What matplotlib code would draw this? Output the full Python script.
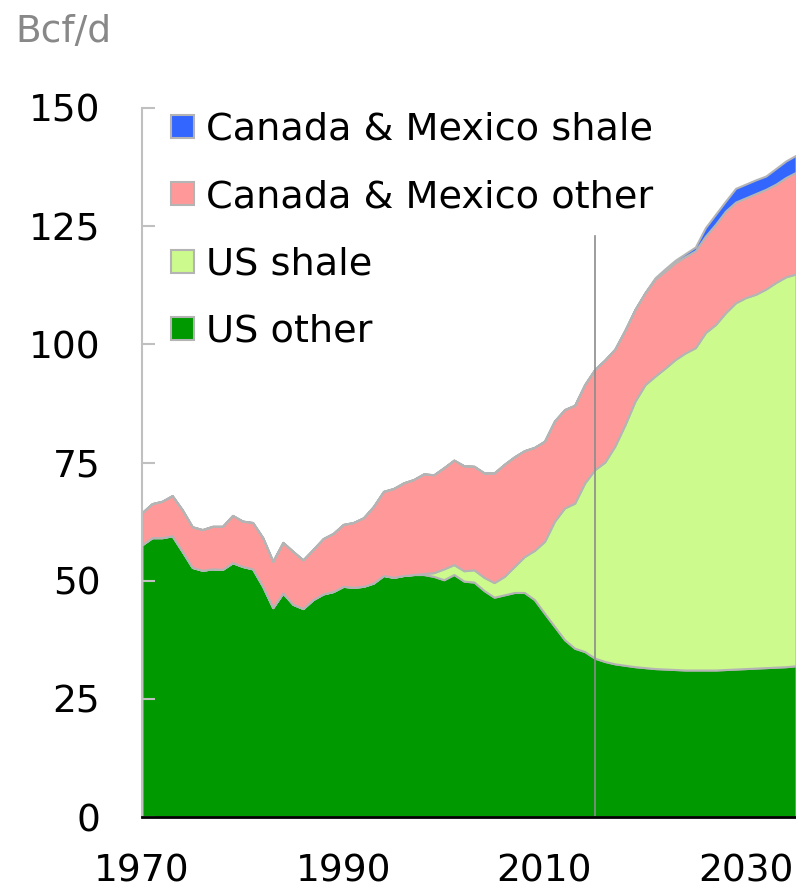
import matplotlib
matplotlib.use("Agg")
import matplotlib.pyplot as plt
import numpy as np

plt.rcParams['font.family'] = ['DejaVu Sans']

years = list(range(1970, 2036))

us_other = [57.6, 59.1, 59.1, 59.5, 56.2, 52.8, 52.2, 52.5, 52.4, 53.8,
            53.0, 52.5, 48.8, 44.3, 47.4, 45.0, 44.1, 46.0, 47.2, 47.7,
            48.8, 48.6, 48.8, 49.5, 51.1, 50.7, 51.1, 51.3, 51.3, 50.9,
            50.2, 51.3, 49.9, 49.7, 47.9, 46.5, 47.0, 47.5, 47.5, 46.0,
            43.1, 40.3, 37.5, 35.7, 35.0, 33.6, 32.9, 32.4, 32.1, 31.8,
            31.6, 31.4, 31.3, 31.2, 31.1, 31.1, 31.1, 31.1, 31.2, 31.3,
            31.4, 31.5, 31.6, 31.7, 31.8, 32.0]

us_shale = [0, 0, 0, 0, 0, 0, 0, 0, 0, 0,
            0, 0, 0, 0, 0, 0, 0, 0, 0, 0,
            0, 0, 0, 0, 0, 0, 0, 0, 0.2, 0.8,
            2.3, 2.1, 2.2, 2.6, 2.8, 3.1, 3.9, 5.5, 7.6, 10.4,
            15.2, 22.3, 27.9, 30.7, 35.7, 39.9, 42.2, 46.1, 50.9, 56.2,
            59.9, 61.9, 63.7, 65.6, 67.1, 68.2, 71.4, 73.1, 75.5, 77.5,
            78.5, 79.1, 80.1, 81.4, 82.5, 82.9]

cm_other = [6.8, 7.2, 7.7, 8.5, 8.8, 8.6, 8.6, 9.0, 9.1, 10.0,
            9.6, 9.8, 10.3, 9.8, 10.7, 11.2, 10.3, 10.6, 11.7, 12.3,
            13.1, 13.7, 14.5, 16.2, 17.8, 18.8, 19.6, 20.1, 21.1, 20.7,
            21.4, 22.1, 22.2, 21.9, 22.1, 23.2, 23.7, 23.2, 22.4, 21.8,
            21.2, 21.2, 20.8, 20.7, 20.8, 21.2, 21.6, 20.5, 20.0, 19.4,
            19.4, 20.5, 20.5, 20.5, 20.4, 20.5, 20.4, 21.2, 21.5, 21.3,
            21.1, 21.3, 21.1, 20.8, 21.0, 21.5]

cm_shale = [0] * 50 + [0.1, 0.3, 0.5, 0.5, 0.6, 0.8, 1.8, 2.1, 2.1, 2.9,
                       2.9, 2.9, 2.8, 3.3, 3.5, 3.6]

labels = ['US other', 'US shale', 'Canada & Mexico other', 'Canada & Mexico shale']
colors = ['#009900', '#ccfa8c', '#ff9999', '#3366ff']

fig = plt.figure(figsize=(7.96, 8.89), dpi=100)
ax = fig.add_axes([142/796, 1 - 817/889, 1 - 142/796, (817 - 108)/889])

polys = ax.stackplot(years, us_other, us_shale, cm_other, cm_shale,
                     colors=colors, labels=labels,
                     edgecolor='#b4b4b4', linewidth=1.5)

ax.axvline(2015, ymin=0, ymax=123/150, color='#8c8c8c', linewidth=1.2)

ax.set_xlim(1970, 2035)
ax.set_ylim(0, 150)
ax.set_xticks([1970, 1990, 2010, 2030])
ax.set_yticks([0, 25, 50, 75, 100, 125, 150])

for s in ['top', 'right']:
    ax.spines[s].set_visible(False)
ax.spines['left'].set_color('#c0c0c0')
ax.spines['left'].set_linewidth(1.5)
ax.spines['bottom'].set_color('black')
ax.spines['bottom'].set_linewidth(2)
ax.spines['bottom'].set_zorder(5)

ax.tick_params(axis='y', direction='in', length=9, width=1.5, color='#c0c0c0',
               labelsize=27, pad=30)
ax.tick_params(axis='x', length=0, labelsize=27, pad=26)

fig.text(15/796, 1 - 42/889, 'Bcf/d', fontsize=27, color='#888888',
         va='baseline', ha='left')

handles, labs = ax.get_legend_handles_labels()
leg = fig.legend(handles[::-1], labs[::-1], loc='upper left',
                 bbox_to_anchor=(171/796, 1 - 112/889), frameon=False,
                 fontsize=27.5, borderpad=0, borderaxespad=0,
                 handlelength=0.6, handleheight=0.55, handletextpad=0.32,
                 labelspacing=0.82)

fig.savefig('out.png', dpi=100)
